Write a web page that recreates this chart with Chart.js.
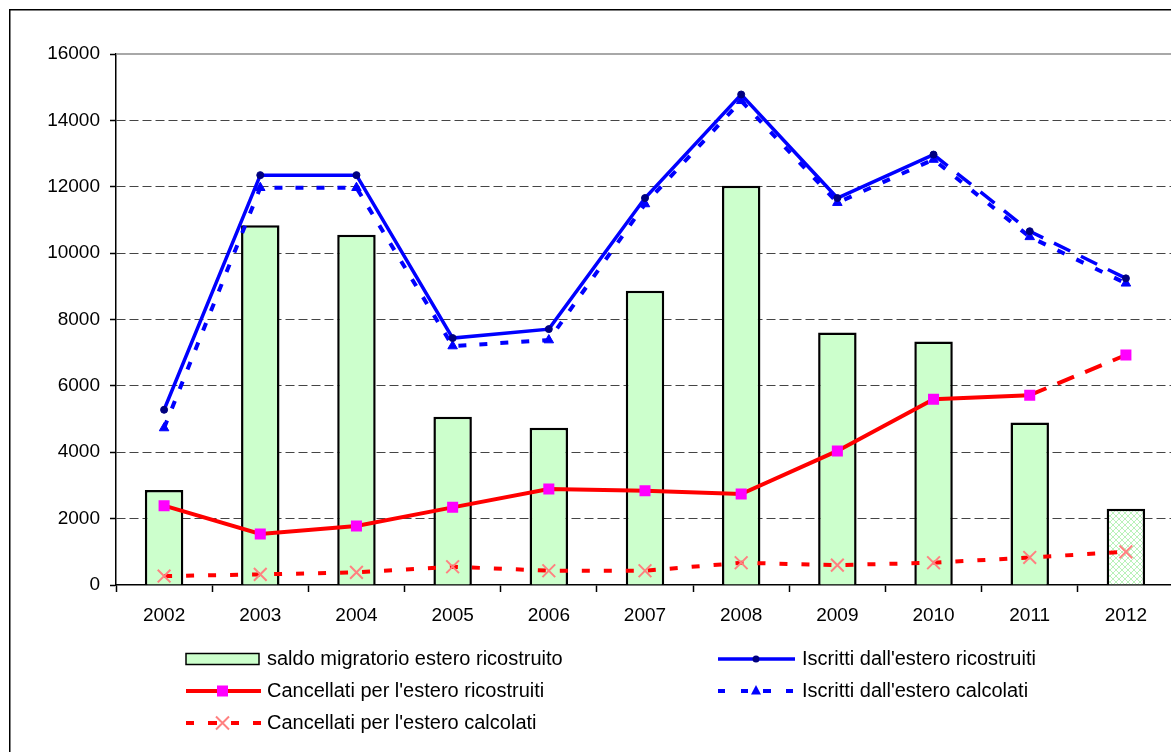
<!DOCTYPE html>
<html><head><meta charset="utf-8">
<script src="https://cdn.jsdelivr.net/npm/chart.js@4.4.0/dist/chart.umd.min.js"></script>
<style>
html,body{margin:0;padding:0;background:#fff;overflow:hidden;width:1171px;height:752px;}
#c{position:absolute;left:0;top:0;}
</style></head><body>
<canvas id="c" width="1185" height="752"></canvas>
<script>
const years = ['2002','2003','2004','2005','2006','2007','2008','2009','2010','2011','2012'];
const saldoRicostruito = [2860, 10840, 10550, 5070, 4740, 8865, 12030, 7610, 7340, 4900, 2300];
const iscrittiRicostruiti = [5280, 12350, 12350, 7440, 7710, 11660, 14780, 11660, 12970, 10660, 9240];
const iscrittiCalcolati = [4730, 11970, 11970, 7200, 7380, 11480, 14590, 11520, 12820, 10490, 9090];
const cancellatiRicostruiti = [2390, 1540, 1780, 2340, 2890, 2840, 2740, 4040, 5600, 5720, 6930];
const cancellatiCalcolati = [270, 320, 380, 550, 430, 430, 670, 600, 670, 830, 1000];
const yMin = 0, yMax = 16000, yStep = 2000;
const legendLabels = ['saldo migratorio estero ricostruito', "Iscritti dall'estero ricostruiti", "Cancellati per l'estero ricostruiti", "Iscritti dall'estero calcolati", "Cancellati per l'estero calcolati"];

const FONT = '"Liberation Sans", Arial, sans-serif';

// hatch pattern for the last (estimated) bar
const pc = document.createElement('canvas');
pc.width = 6; pc.height = 6;
const px = pc.getContext('2d');
px.fillStyle = '#ffffff'; px.fillRect(0,0,6,6);
px.strokeStyle = '#b9f2b9'; px.lineWidth = 1;
px.beginPath(); px.moveTo(0,0); px.lineTo(6,6); px.moveTo(6,0); px.lineTo(0,6); px.stroke();
const hatch = document.createElement('canvas').getContext('2d').createPattern(pc, 'repeat');
const barColors = saldoRicostruito.map((v,i) => i === saldoRicostruito.length - 1 ? hatch : '#ccffcc');

const framePlugin = {
  id: 'frame',
  beforeDatasetsDraw(chart) {
    const {ctx, chartArea: a} = chart;
    ctx.save();
    ctx.strokeStyle = '#8c8c8c'; ctx.lineWidth = 1.5;
    ctx.beginPath();
    ctx.moveTo(a.left, a.top); ctx.lineTo(a.right, a.top); ctx.lineTo(a.right, a.bottom);
    ctx.stroke();
    ctx.restore();
  },
  afterDraw(chart) {
    const ctx = chart.ctx;
    ctx.save();
    // outer frame
    ctx.strokeStyle = '#000'; ctx.lineWidth = 1.5;
    ctx.strokeRect(9.75, 9.75, 2000, 2000);
    // legend
    ctx.font = '20px ' + FONT;
    ctx.fillStyle = '#000';
    ctx.textBaseline = 'middle';
    const rows = [659, 691, 723];
    const c1 = 186, c2 = 718;
    // saldo
    ctx.fillStyle = '#ccffcc'; ctx.fillRect(c1, rows[0]-5.5, 73, 11);
    ctx.strokeStyle = '#000'; ctx.lineWidth = 1.5; ctx.strokeRect(c1, rows[0]-5.5, 73, 11);
    // cancellati ricostruiti
    ctx.strokeStyle = '#ff0000'; ctx.lineWidth = 4;
    ctx.beginPath(); ctx.moveTo(c1, rows[1]); ctx.lineTo(c1+75, rows[1]); ctx.stroke();
    ctx.fillStyle = '#ff00ff'; ctx.fillRect(c1+31, rows[1]-5.5, 11, 11);
    // cancellati calcolati
    ctx.fillStyle = '#ff0000';
    [[0,8],[22,9],[45,8],[67,8]].forEach(d => ctx.fillRect(c1+d[0], rows[2]-2, d[1], 4));
    ctx.strokeStyle = '#ff8080'; ctx.lineWidth = 2;
    ctx.beginPath(); ctx.moveTo(c1+30, rows[2]-6.5); ctx.lineTo(c1+43, rows[2]+6.5);
    ctx.moveTo(c1+43, rows[2]-6.5); ctx.lineTo(c1+30, rows[2]+6.5); ctx.stroke();
    // iscritti ricostruiti
    ctx.strokeStyle = '#0000ff'; ctx.lineWidth = 3.5;
    ctx.beginPath(); ctx.moveTo(c2, rows[0]); ctx.lineTo(c2+77, rows[0]); ctx.stroke();
    ctx.fillStyle = '#000080'; ctx.beginPath(); ctx.arc(c2+38, rows[0], 3.5, 0, Math.PI*2); ctx.fill();
    // iscritti calcolati
    ctx.fillStyle = '#0000ff';
    [[0,7],[23,7],[45,8],[68,7]].forEach(d => ctx.fillRect(c2+d[0], rows[1]-2, d[1], 4));
    ctx.beginPath(); ctx.moveTo(c2+38, rows[1]-6); ctx.lineTo(c2+43, rows[1]+3.5); ctx.lineTo(c2+33, rows[1]+3.5); ctx.closePath(); ctx.fill();
    // texts
    ctx.fillStyle = '#000';
    ctx.fillText(legendLabels[0], 267, rows[0]);
    ctx.fillText(legendLabels[2], 267, rows[1]);
    ctx.fillText(legendLabels[4], 267, rows[2]);
    ctx.fillText(legendLabels[1], 802, rows[0]);
    ctx.fillText(legendLabels[3], 802, rows[1]);
    ctx.restore();
  }
};

new Chart(document.getElementById('c'), {
  type: 'bar',
  data: {
    labels: years,
    datasets: [
      {
        type: 'bar', label: legendLabels[0], data: saldoRicostruito, order: 10,
        backgroundColor: barColors, borderColor: '#000', borderWidth: 2.5,
        barPercentage: 0.4, categoryPercentage: 1
      },
      {
        type: 'line', label: legendLabels[3], data: iscrittiCalcolati, order: 4,
        borderColor: '#0000ff', borderWidth: 4, borderDash: [8,13], tension: 0, fill: false,
        pointStyle: 'triangle', pointRadius: 5.5, pointBackgroundColor: '#0000ff', pointBorderColor: '#0000ff', pointBorderWidth: 1
      },
      {
        type: 'line', label: legendLabels[1], data: iscrittiRicostruiti, order: 3,
        borderColor: '#0000ff', borderWidth: 3.5, tension: 0, fill: false,
        segment: { borderDash: c => c.p0DataIndex >= 8 ? [18,12] : undefined },
        pointStyle: 'circle', pointRadius: 3.5, pointBackgroundColor: '#000080', pointBorderColor: '#000080', pointBorderWidth: 1
      },
      {
        type: 'line', label: legendLabels[4], data: cancellatiCalcolati, order: 2,
        borderColor: '#ff0000', borderWidth: 4, borderDash: [8,14], tension: 0, fill: false,
        pointStyle: 'crossRot', pointRadius: 9, pointBorderColor: '#ff8080', pointBackgroundColor: '#ff8080', pointBorderWidth: 2
      },
      {
        type: 'line', label: legendLabels[2], data: cancellatiRicostruiti, order: 1,
        borderColor: '#ff0000', borderWidth: 4, tension: 0, fill: false,
        segment: { borderDash: c => c.p0DataIndex >= 9 ? [18,12] : undefined },
        pointStyle: 'rect', pointRadius: 7.8, pointBackgroundColor: '#ff00ff', pointBorderColor: '#ff00ff', pointBorderWidth: 0
      }
    ]
  },
  options: {
    responsive: false, animation: false, devicePixelRatio: 1,
    layout: { padding: { left: 0, top: 54, right: 10, bottom: 0 } },
    plugins: { legend: { display: false }, tooltip: { enabled: false } },
    scales: {
      x: {
        offset: true,
        grid: { offset: true, drawOnChartArea: false, drawTicks: true, tickLength: 7, tickColor: '#000', tickWidth: 1.5 },
        border: { display: true, color: '#000', width: 1.5 },
        ticks: { color: '#000', font: { family: FONT, size: 19 }, padding: 12, maxRotation: 0 },
        afterFit: s => { s.height = 167; }
      },
      y: {
        min: yMin, max: yMax,
        grid: {
          color: c => (c.tick && (c.tick.value === yMax || c.tick.value === yMin)) ? 'rgba(0,0,0,0)' : '#454545',
          lineWidth: 1, tickLength: 6, tickColor: '#000', tickWidth: 1.5, tickBorderDash: []
        },
        border: { display: true, color: '#000', width: 1.5, dash: [9,4] },
        ticks: { stepSize: yStep, color: '#000', font: { family: FONT, size: 19 }, padding: 10, callback: v => String(v) },
        afterFit: s => { s.width = 116; }
      }
    }
  },
  plugins: [framePlugin]
});
</script>
</body></html>
